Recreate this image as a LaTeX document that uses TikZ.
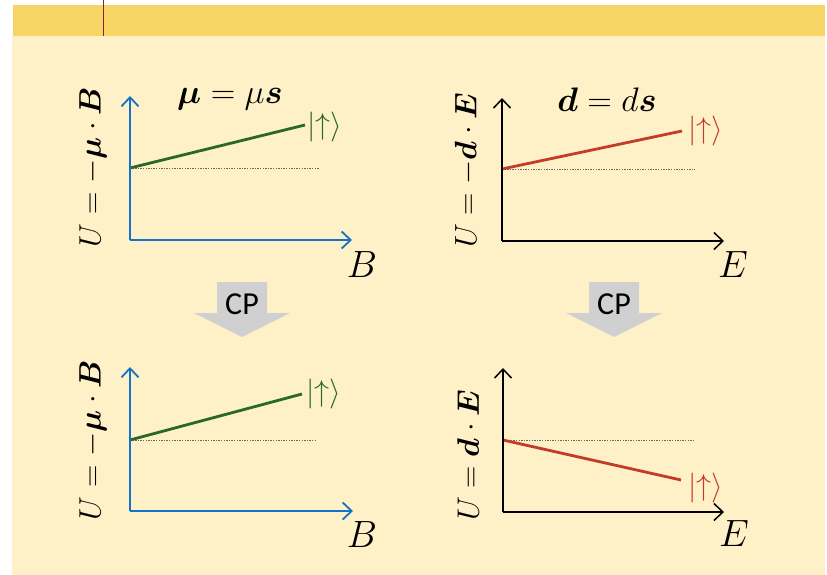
\RequirePackage{fix-cm}
\documentclass[tikz,border=0pt]{standalone}
\usepackage{amsmath,bm}
\usepackage{fontspec}
\newfontfamily\cpfont{Carlito}
\usetikzlibrary{arrows.meta}
\definecolor{bandyellow}{RGB}{246,213,101}
\definecolor{paneyellow}{RGB}{255,241,199}
\definecolor{barbrown}{RGB}{140,30,55}
\definecolor{axisblue}{RGB}{20,115,200}
\definecolor{levelgreen}{RGB}{40,105,40}
\definecolor{levelred}{RGB}{195,60,40}
\definecolor{cpgray}{RGB}{208,208,208}
\tikzset{
  axisB/.style={axisblue,line width=1.8pt,-{Straight Barb[length=9pt,width=17pt,line width=1.8pt]}},
  axisE/.style={black,line width=1.5pt,-{Straight Barb[length=9pt,width=17pt,line width=1.5pt]}},
  refline/.style={gray!80!black,line width=0.8pt,dash pattern=on 1.4pt off 1.2pt},
  greenlevel/.style={levelgreen,line width=2.8pt},
  redlevel/.style={levelred,line width=2.8pt},
  ket/.style={anchor=west,inner sep=0pt,font=\fontsize{30}{32}\selectfont},
  ulabel/.style={rotate=90,inner sep=0pt,font=\fontsize{31}{33}\selectfont},
  axlabel/.style={inner sep=0pt,font=\fontsize{38}{40}\selectfont},
  titlelabel/.style={inner sep=0pt,font=\fontsize{34}{36}\selectfont},
}
\begin{document}
\begin{tikzpicture}[x=1pt,y=-1pt]
  \useasboundingbox (0,0) rectangle (827,575);
  % background
  \fill[white] (0,0) rectangle (827,575);
  \fill[paneyellow] (12,36) rectangle (825,575);
  \fill[bandyellow] (13,5) rectangle (825,36);
  \draw[barbrown,line width=1.8pt] (103.5,0)--(103.5,36);
  % CP arrows
  \foreach \cx/\n in {242/cpa,614/cpb}{
    \fill[cpgray] ({\cx-25},282)--({\cx+25},282)--({\cx+25},313)--({\cx+48},313)
      --(\cx,337)--({\cx-48},313)--({\cx-25},313)--cycle;
    \node[inner sep=0pt,font=\cpfont\fontsize{32}{33}\selectfont] (\n) at (\cx,304) {CP};
  }
  % top left: magnetic moment
  \coordinate (o1) at (130,240); \coordinate (y1) at (130,96); \coordinate (x1) at (352,240);
  \coordinate (a1) at (130,168); \coordinate (b1) at (305,125); \coordinate (r1) at (319,168);
  \draw[refline] (a1)--(r1);
  \draw[greenlevel] (a1)--(b1);
  \draw[axisB] (o1)--(y1); \draw[axisB] (o1)--(x1);
  \node[ket,levelgreen] (k1) at (307,127) {$|{\uparrow}\rangle$};
  \node[titlelabel] (t1) at (230,99) {$\boldsymbol{\mu}=\mu\boldsymbol{s}$};
  \node[axlabel] (xl1) at (362,265) {$B$};
  \node[ulabel] (ul1) at (93,167) {$U=-\boldsymbol{\mu}\cdot\boldsymbol{B}$};
  % top right: electric dipole
  \coordinate (o2) at (502,241); \coordinate (y2) at (502,98); \coordinate (x2) at (724,241);
  \coordinate (a2) at (502,169); \coordinate (b2) at (682,131); \coordinate (r2) at (695,169);
  \draw[refline] (a2)--(r2);
  \draw[redlevel] (a2)--(b2);
  \draw[axisE] (o2)--(y2); \draw[axisE] (o2)--(x2);
  \node[ket,levelred] (k2) at (688,131) {$|{\uparrow}\rangle$};
  \node[titlelabel] (t2) at (607,100) {$\boldsymbol{d}=d\boldsymbol{s}$};
  \node[axlabel] (xl2) at (733,265) {$E$};
  \node[ulabel] (ul2) at (467,170) {$U=-\boldsymbol{d}\cdot\boldsymbol{E}$};
  % bottom left: after CP
  \coordinate (o3) at (130,511); \coordinate (y3) at (130,367); \coordinate (x3) at (353,511);
  \coordinate (a3) at (130,440); \coordinate (b3) at (302,394); \coordinate (r3) at (315,440);
  \draw[refline] (a3)--(r3);
  \draw[greenlevel] (a3)--(b3);
  \draw[axisB] (o3)--(y3); \draw[axisB] (o3)--(x3);
  \node[ket,levelgreen] (k3) at (306,394) {$|{\uparrow}\rangle$};
  \node[axlabel] (xl3) at (362,535) {$B$};
  \node[ulabel] (ul3) at (93,440) {$U=-\boldsymbol{\mu}\cdot\boldsymbol{B}$};
  % bottom right: after CP
  \coordinate (o4) at (503,512); \coordinate (y4) at (503,368); \coordinate (x4) at (724,512);
  \coordinate (a4) at (503,440); \coordinate (b4) at (681,480); \coordinate (r4) at (694,440);
  \draw[refline] (a4)--(r4);
  \draw[redlevel] (a4)--(b4);
  \draw[axisE] (o4)--(y4); \draw[axisE] (o4)--(x4);
  \node[ket,levelred] (k4) at (688,488) {$|{\uparrow}\rangle$};
  \node[axlabel] (xl4) at (734,534) {$E$};
  \node[ulabel] (ul4) at (468,455) {$U=\boldsymbol{d}\cdot\boldsymbol{E}$};
\end{tikzpicture}
\end{document}
